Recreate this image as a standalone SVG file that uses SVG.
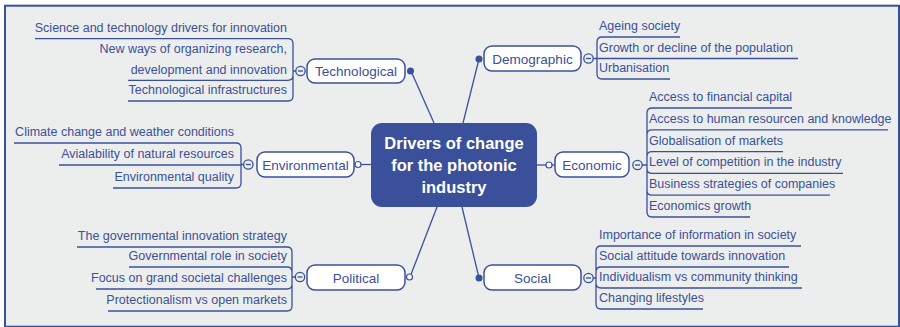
<svg xmlns="http://www.w3.org/2000/svg" width="900" height="327" viewBox="0 0 900 327">
<style>
.bg{fill:#eceeed;stroke:#3b509b;stroke-width:2}
.ln{fill:none;stroke:#3b509b;stroke-width:1.3}
.it{font-family:"Liberation Sans",Arial,sans-serif;font-size:12.5px;fill:#3b509b}
.l{text-anchor:end}
.nd{fill:#ffffff;stroke:#3b509b;stroke-width:1.5}
.nt{font-family:"Liberation Sans",Arial,sans-serif;font-size:13.5px;fill:#3b509b;text-anchor:middle}
.ct{font-family:"Liberation Sans",Arial,sans-serif;font-size:16.5px;font-weight:bold;fill:#ffffff;text-anchor:middle}
.dot{fill:#3b509b}
.hol{fill:#ffffff;stroke:#3b509b;stroke-width:1.2}
.col{fill:#eceeed;stroke:#3b509b;stroke-width:1.3}
</style>
<rect width="900" height="327" fill="#ffffff"/>
<rect class="bg" x="5" y="5.7" width="894" height="321"/>

<g id="connectors">
<line class="ln" x1="411" y1="71" x2="434" y2="123"/>
<line class="ln" x1="479" y1="59" x2="463" y2="123"/>
<line class="ln" x1="354" y1="164.5" x2="371" y2="164.5"/>
<line class="ln" x1="537" y1="165" x2="555" y2="165"/>
<line class="ln" x1="437" y1="207" x2="410" y2="277"/>
<line class="ln" x1="462" y1="207" x2="479" y2="278"/>
<circle class="dot" cx="410.5" cy="71" r="3.5"/>
<circle class="dot" cx="479" cy="59" r="3.5"/>
<circle class="dot" cx="479" cy="278" r="3.5"/>
<circle class="hol" cx="358" cy="164.5" r="3"/>
<circle class="hol" cx="549" cy="165" r="3"/>
<circle class="hol" cx="409.5" cy="277" r="3"/>
</g>

<g id="center">
<rect x="371" y="123" width="166" height="84" rx="11" fill="#3a509b"/>
<text class="ct" x="454" y="149">Drivers of change</text>
<text class="ct" x="454" y="171">for the photonic</text>
<text class="ct" x="454" y="193">industry</text>
</g>

<g id="technological">
<path class="ln" d="M35,38.7 H288 Q293,38.7 293,43.7 V71 H296 M128,80.3 H288 Q293,80.3 293,75.3 V71 M128,101 H288 Q293,101 293,96 V71"/>
<circle class="col" cx="300.5" cy="71" r="4.7"/><line class="ln" x1="298" y1="71" x2="303" y2="71"/>
<rect class="nd" x="307" y="59" width="98" height="24" rx="8"/>
<text class="nt" x="356" y="76">Technological</text>
<text class="it l" x="287" y="31.5">Science and technology drivers for innovation</text>
<text class="it l" x="287" y="52.5">New ways of organizing research,</text>
<text class="it l" x="287" y="73.5">development and innovation</text>
<text class="it l" x="287" y="94">Technological infrastructures</text>
</g>

<g id="environmental">
<path class="ln" d="M14,143 H236 Q241,143 241,148 V164.5 H243.5 M59,165 H241 M113,188 H236 Q241,188 241,183 V164.5"/>
<circle class="col" cx="248.3" cy="164.5" r="4.7"/><line class="ln" x1="245.8" y1="164.5" x2="250.8" y2="164.5"/>
<rect class="nd" x="257" y="152" width="97" height="25" rx="8"/>
<text class="nt" x="305.5" y="169.5">Environmental</text>
<text class="it l" x="234" y="136">Climate change and weather conditions</text>
<text class="it l" x="234" y="158">Avialability of natural resources</text>
<text class="it l" x="234" y="181">Environmental quality</text>
</g>

<g id="political">
<path class="ln" d="M77,247 H287 Q292,247 292,252 V277 H295.5 M129,267 H287 Q292,267 292,272 V277 M96,289 H287 Q292,289 292,284 V277 M108,311 H287 Q292,311 292,306 V277"/>
<circle class="col" cx="300" cy="277" r="4.7"/><line class="ln" x1="297.5" y1="277" x2="302.5" y2="277"/>
<rect class="nd" x="307" y="265" width="98" height="25" rx="8"/>
<text class="nt" x="356" y="282.5">Political</text>
<text class="it l" x="287" y="240">The governmental innovation strategy</text>
<text class="it l" x="287" y="260">Governmental role in society</text>
<text class="it l" x="287" y="282">Focus on grand societal challenges</text>
<text class="it l" x="287" y="304">Protectionalism vs open markets</text>
</g>

<g id="demographic">
<path class="ln" d="M680,37 H602 Q597,37 597,42 V58.5 H593 M798,58.5 H597 M670,79 H602 Q597,79 597,74 V58.5"/>
<circle class="col" cx="588.5" cy="58.5" r="4.7"/><line class="ln" x1="586" y1="58.5" x2="591" y2="58.5"/>
<rect class="nd" x="484" y="46" width="97" height="25" rx="8"/>
<text class="nt" x="532.5" y="63.5">Demographic</text>
<text class="it" x="599" y="30">Ageing society</text>
<text class="it" x="599" y="51.5">Growth or decline of the population</text>
<text class="it" x="599" y="72">Urbanisation</text>
</g>

<g id="economic">
<path class="ln" d="M792,108 H652 Q647,108 647,113 V165 H642 M888,129.8 H652 Q647,129.8 647,134.8 V165 M783,151.6 H652 Q647,151.6 647,156.6 V165 M843,173.4 H652 Q647,173.4 647,168.4 V165 M830,195.2 H652 Q647,195.2 647,190.2 V165 M750,217 H652 Q647,217 647,212 V165"/>
<circle class="col" cx="637.5" cy="165" r="4.7"/><line class="ln" x1="635" y1="165" x2="640" y2="165"/>
<rect class="nd" x="555" y="152" width="74" height="25" rx="8"/>
<text class="nt" x="592" y="169.5">Economic</text>
<text class="it" x="649" y="101">Access to financial capital</text>
<text class="it" x="649" y="122.8">Access to human resourcen and knowledge</text>
<text class="it" x="649" y="144.6">Globalisation of markets</text>
<text class="it" x="649" y="166.4">Level of competition in the industry</text>
<text class="it" x="649" y="188.2">Business strategies of companies</text>
<text class="it" x="649" y="210">Economics growth</text>
</g>

<g id="social">
<path class="ln" d="M801,246 H601 Q596,246 596,251 V278 H593 M789,267 H601 Q596,267 596,272 V278 M802,288 H601 Q596,288 596,283 V278 M703,309 H601 Q596,309 596,304 V278"/>
<circle class="col" cx="588.5" cy="278" r="4.7"/><line class="ln" x1="586" y1="278" x2="591" y2="278"/>
<rect class="nd" x="484" y="265" width="97" height="25" rx="8"/>
<text class="nt" x="532.5" y="282.5">Social</text>
<text class="it" x="599" y="239">Importance of information in society</text>
<text class="it" x="599" y="260">Social attitude towards innovation</text>
<text class="it" x="599" y="281">Individualism vs community thinking</text>
<text class="it" x="599" y="302">Changing lifestyles</text>
</g>
</svg>
